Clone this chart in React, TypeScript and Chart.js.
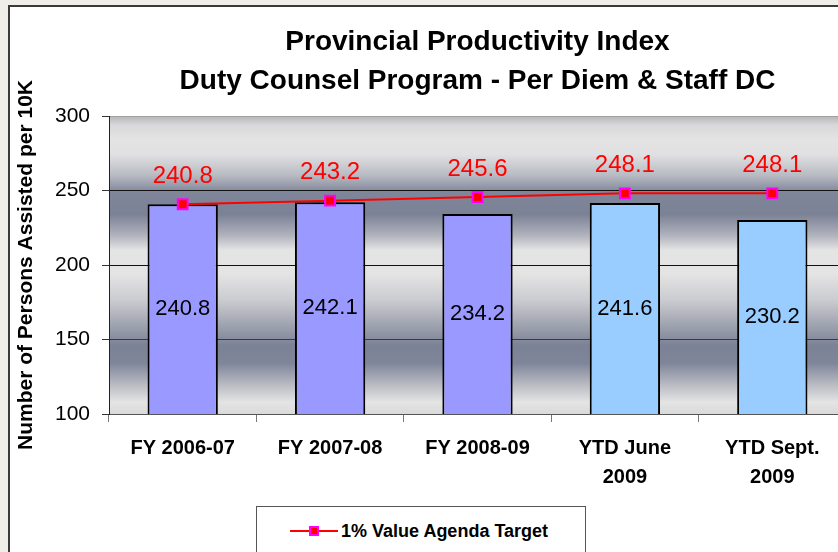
import { useEffect, useRef } from "react";
import { Chart, registerables } from "chart.js";

Chart.register(...registerables);

const categories: (string | string[])[] = [
  "FY 2006-07",
  "FY 2007-08",
  "FY 2008-09",
  ["YTD June", "2009"],
  ["YTD Sept.", "2009"],
];
const actualValues = [240.8, 242.1, 234.2, 241.6, 230.2];
const targetValues = [240.8, 243.2, 245.6, 248.1, 248.1];
const barColors = ["#9999ff", "#9999ff", "#9999ff", "#99ccff", "#99ccff"];
const yTicks = [100, 150, 200, 250, 300];
const titleLines = ["Provincial Productivity Index", "Duty Counsel Program - Per Diem & Staff DC"];
const yAxisTitle = "Number of Persons Assisted per 10K";
const legendLabel = "1% Value Agenda Target";

const FONT = "'Liberation Sans', Arial, Helvetica, sans-serif";

const gradientStops: [number, string][] = [
  [0, "#b4b4ba"],
  [0.03, "#d8d8da"],
  [0.08, "#e4e4e4"],
  [0.13, "#e0e0e2"],
  [0.2, "#b8bac2"],
  [0.255, "#80869a"],
  [0.33, "#7c8296"],
  [0.4, "#b0b2bc"],
  [0.45, "#e4e4e4"],
  [0.53, "#e4e4e4"],
  [0.62, "#cacbd0"],
  [0.7, "#a0a4b0"],
  [0.77, "#7c8296"],
  [0.83, "#80869a"],
  [0.9, "#b8bac2"],
  [0.96, "#e4e4e4"],
  [1, "#dadada"],
];

const plotBgPlugin = {
  id: "plotBg",
  beforeDraw(chart: any) {
    const { ctx, chartArea: a } = chart;
    if (!a) return;
    const g = ctx.createLinearGradient(0, a.top, 0, a.bottom);
    gradientStops.forEach(([o, c]) => g.addColorStop(o, c));
    ctx.save();
    ctx.fillStyle = g;
    ctx.fillRect(a.left, a.top, a.right - a.left, a.bottom - a.top);
    ctx.restore();
  },
};

const valueLabelPlugin = {
  id: "valueLabels",
  afterDatasetsDraw(chart: any) {
    const ctx = chart.ctx;
    const area = chart.chartArea;
    ctx.save();
    ctx.textAlign = "center";
    ctx.textBaseline = "middle";
    chart.data.datasets.forEach((ds: any, i: number) => {
      const meta = chart.getDatasetMeta(i);
      meta.data.forEach((el: any, j: number) => {
        const v = ds.data[j] as number;
        if (meta.type === "bar") {
          const base = Math.min(el.base, area.bottom);
          ctx.font = `22px ${FONT}`;
          ctx.fillStyle = "#000000";
          ctx.fillText(v.toFixed(1), el.x, (el.y + base) / 2);
        } else {
          ctx.font = `24px ${FONT}`;
          ctx.fillStyle = "#ff0000";
          ctx.fillText(v.toFixed(1), el.x, el.y - 28);
        }
      });
    });
    ctx.restore();
  },
};

export default function App() {
  const canvasRef = useRef<HTMLCanvasElement | null>(null);

  useEffect(() => {
    if (!canvasRef.current) return;
    const chart = new Chart(canvasRef.current, {
      type: "bar",
      data: {
        labels: categories,
        datasets: [
          {
            type: "line",
            label: legendLabel,
            data: targetValues,
            borderColor: "#ff0000",
            borderWidth: 2,
            pointStyle: "rect",
            pointRadius: 7,
            pointBackgroundColor: "#ff0000",
            pointBorderColor: "#ff00ff",
            pointBorderWidth: 2,
            tension: 0,
            order: 0,
          } as any,
          {
            type: "bar",
            label: "Actual",
            data: actualValues,
            backgroundColor: barColors,
            borderColor: "#000000",
            borderWidth: 2,
            borderSkipped: false,
            barPercentage: 0.477,
            categoryPercentage: 1,
            order: 1,
          } as any,
        ],
      },
      options: {
        responsive: false,
        animation: false,
        devicePixelRatio: 1,
        layout: { padding: { left: 0, right: 14, top: 0, bottom: 0 } },
        plugins: {
          legend: { display: false },
          tooltip: { enabled: false },
          title: {
            display: true,
            text: titleLines,
            fullSize: false,
            color: "#000000",
            font: { family: FONT, size: 28, weight: "bold", lineHeight: 1.393 },
            padding: { top: 15.5, bottom: 15.5 },
          },
        },
        scales: {
          x: {
            offset: true,
            grid: {
              offset: true,
              drawOnChartArea: false,
              drawTicks: true,
              tickLength: 8,
              color: "#777777",
            },
            border: { color: "#555555", width: 1 },
            ticks: {
              color: "#000000",
              padding: 12,
              maxRotation: 0,
              autoSkip: false,
              font: { family: FONT, size: 20, weight: "bold", lineHeight: 1.45 },
            },
            afterFit(s: any) {
              s.height = 93;
            },
          },
          y: {
            min: 100,
            max: 300,
            afterBuildTicks(s: any) {
              s.ticks = yTicks.map((v) => ({ value: v }));
            },
            grid: {
              drawOnChartArea: true,
              tickLength: 7,
              color: (c: any) =>
                c.tick && c.tick.value === 300 ? "#a0a0a0" : c.tick && c.tick.value === 150 ? "#3a3a3a" : "#111111",
              tickColor: "#333333",
            },
            border: { color: "#222222", width: 1 },
            ticks: {
              color: "#000000",
              padding: 12,
              font: { family: FONT, size: 21 },
            },
            title: {
              display: true,
              text: yAxisTitle,
              color: "#000000",
              font: { family: FONT, size: 21, weight: "bold" },
              padding: { top: 4, bottom: 0 },
            },
            afterFit(s: any) {
              s.width = 99;
            },
          },
        },
      },
      plugins: [plotBgPlugin, valueLabelPlugin],
    });
    return () => chart.destroy();
  }, []);

  return (
    <div
      style={{
        position: "fixed",
        left: 0,
        top: 0,
        width: 838,
        height: 552,
        overflow: "hidden",
        background: "#efeee8",
      }}
    >
      <div
        style={{
          position: "absolute",
          left: 8,
          top: 5,
          width: 900,
          height: 600,
          boxSizing: "border-box",
          border: "2px solid #3a3a3a",
          background: "#ffffff",
        }}
      >
        <canvas
          ref={canvasRef}
          width={850}
          height={500}
          style={{ position: "absolute", left: 0, top: 0, width: 850, height: 500 }}
        />
        <div
          style={{
            position: "absolute",
            left: 246,
            top: 499,
            width: 330,
            height: 80,
            boxSizing: "border-box",
            border: "1px solid #555555",
            background: "#ffffff",
          }}
        >
          <div
            style={{
              position: "absolute",
              left: 33,
              top: 23,
              width: 48,
              height: 2,
              background: "#ff0000",
            }}
          />
          <div
            style={{
              position: "absolute",
              left: 52,
              top: 19,
              width: 6,
              height: 6,
              background: "#ff0000",
              border: "2px solid #ff00ff",
            }}
          />
          <div
            style={{
              position: "absolute",
              left: 84,
              top: 12,
              fontFamily: FONT,
              fontWeight: "bold",
              fontSize: 18,
              lineHeight: "24px",
              color: "#000000",
              whiteSpace: "nowrap",
            }}
          >
            {legendLabel}
          </div>
        </div>
      </div>
    </div>
  );
}
